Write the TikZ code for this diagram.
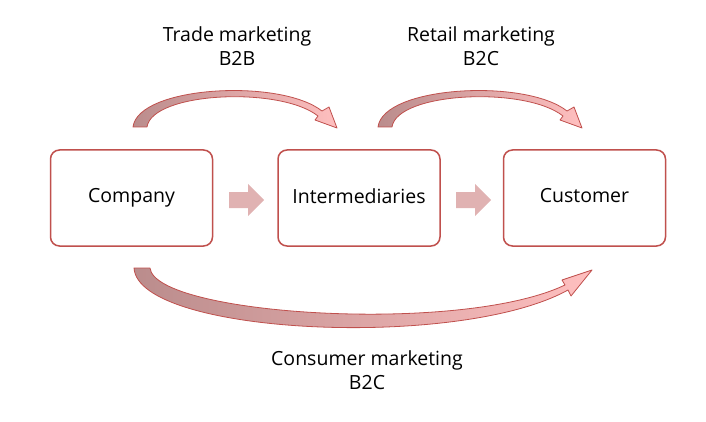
\documentclass[tikz,border=0pt]{standalone}
\usepackage{fontspec}
\setmainfont{Open Sans}
\definecolor{edge}{HTML}{C0504D}
\begin{document}
\begin{tikzpicture}[x=1pt,y=-1pt,
 box/.style={draw=edge,line width=1.5pt,rounded corners=9pt,fill=white,minimum width=162pt,minimum height=96pt,font=\fontsize{19.5}{24}\selectfont},
 lbl/.style={align=center,font=\fontsize{19.5}{24}\selectfont},
 carr/.style={draw=edge,line width=0.8pt,left color=red!40!black!45,right color=red!25,line join=round},
 barr/.style={fill=red!60!black!30,draw=none}]
\useasboundingbox (0,0) rectangle (706,422);
\node[box] (co) at (131.5,198) {Company\vphantom{y}};
\node[box] (in) at (359,198) {Intermediaries\vphantom{y}};
\node[box] (cu) at (584.5,198) {Customer\vphantom{y}};
\node[lbl] (t1) at (237,46) {Trade marketing\\B2B};
\node[lbl] (t2) at (481,46) {Retail marketing\\B2C};
\node[lbl] (t3) at (367,370) {Consumer marketing\\B2C};
\foreach \dx in {0,227}{
 \fill[barr] (229+\dx,192) -- (248+\dx,192) -- (248+\dx,184) -- (264+\dx,200) -- (248+\dx,216) -- (248+\dx,208) -- (229+\dx,208) -- cycle;}
\foreach \dx in {0,245}{
 \path[carr] (133+\dx,127) .. controls (138+\dx,86) and (280+\dx,78) .. (322+\dx,111) -- (329+\dx,107) -- (337+\dx,128) -- (315+\dx,120) -- (318+\dx,116) .. controls (280+\dx,86) and (152+\dx,92) .. (147+\dx,127) -- cycle;}
\path[carr] (134,268) .. controls (138,335) and (460,350) .. (568,290) -- (571,296) -- (592,270) -- (562,280) -- (565,285) .. controls (460,335) and (155,315) .. (150,268) -- cycle;
\end{tikzpicture}
\end{document}
